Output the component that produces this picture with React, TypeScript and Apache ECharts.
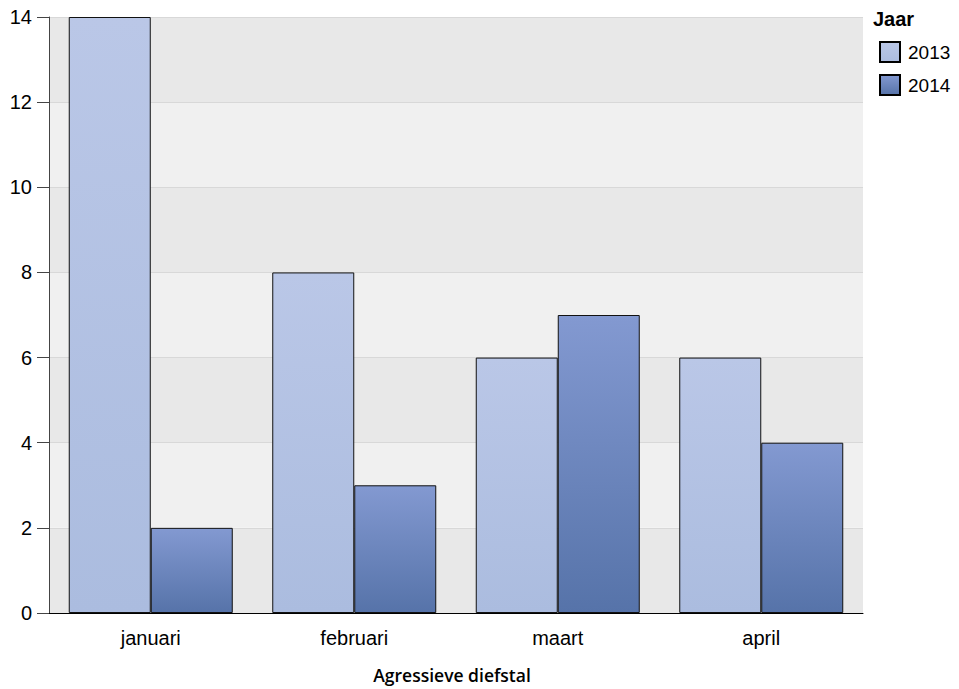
import React, { useEffect, useRef } from "react";
import * as echarts from "echarts";

const categories = ["januari", "februari", "maart", "april"];
const series2013 = [14, 8, 6, 6];
const series2014 = [2, 3, 7, 4];
const seriesNames = ["2013", "2014"];
const yTicks = { min: 0, max: 14, interval: 2 };
const axisName = "Agressieve diefstal";
const legendTitle = "Jaar";

const grad = (top: string, bottom: string) =>
  new echarts.graphic.LinearGradient(0, 0, 0, 1, [
    { offset: 0, color: top },
    { offset: 1, color: bottom },
  ]);

export default function App() {
  const ref = useRef<HTMLDivElement>(null);
  useEffect(() => {
    if (!ref.current) return;
    const chart = echarts.init(ref.current, null, { renderer: "svg" });
    const font = "Liberation Sans, Arial, sans-serif";
    chart.setOption({
      animation: false,
      backgroundColor: "#ffffff",
      grid: { left: 49, right: 96, top: 17, bottom: 68 },
      legend: {
        orient: "vertical",
        left: 874,
        top: 36,
        itemWidth: 20,
        itemHeight: 20,
        itemGap: 11,
        icon: "rect",
        itemStyle: { borderColor: "#000", borderWidth: 2 },
        textStyle: { fontFamily: font, fontSize: 19, color: "#000", padding: [0, 0, 0, 3] },
        data: seriesNames,
      },
      graphic: [
        {
          type: "text",
          left: 873,
          top: 9,
          style: { text: legendTitle, font: `bold 20px ${font}`, fill: "#000" },
        },
      ],
      xAxis: {
        type: "category",
        data: categories,
        name: axisName,
        nameLocation: "middle",
        nameGap: 53,
        nameTextStyle: {
          fontFamily: "Open Sans, sans-serif",
          fontWeight: 600,
          fontSize: 17.5,
          color: "#000",
          padding: [0, 8, 0, 0],
        },
        axisLine: { lineStyle: { color: "#000", width: 1 } },
        axisTick: { alignWithLabel: true, length: 12, lineStyle: { color: "#555" } },
        axisLabel: { fontFamily: font, fontSize: 20, color: "#000", margin: 15 },
        splitLine: { show: false },
      },
      yAxis: {
        type: "value",
        min: yTicks.min,
        max: yTicks.max,
        interval: yTicks.interval,
        axisLine: { show: true, lineStyle: { color: "#444", width: 1 } },
        axisTick: { show: true, length: 12, lineStyle: { color: "#444" } },
        axisLabel: { fontFamily: font, fontSize: 20, color: "#000", margin: 17 },
        splitLine: { show: true, lineStyle: { color: "#d8d8d8", width: 1 } },
        splitArea: { show: true, areaStyle: { color: ["#e8e8e8", "#f0f0f0"] } },
      },
      series: [
        {
          name: seriesNames[0],
          type: "bar",
          data: series2013,
          barWidth: 82,
          barGap: "0%",
          itemStyle: { color: grad("#bac7e7", "#abbcdf"), borderColor: "#111", borderWidth: 1 },
        },
        {
          name: seriesNames[1],
          type: "bar",
          data: series2014,
          barWidth: 82,
          barGap: "0%",
          itemStyle: { color: grad("#8399d1", "#5673a9"), borderColor: "#111", borderWidth: 1 },
        },
      ],
    });
    return () => chart.dispose();
  }, []);
  return <div ref={ref} style={{ width: 959, height: 689, position: "absolute", left: 0, top: 0 }} />;
}
